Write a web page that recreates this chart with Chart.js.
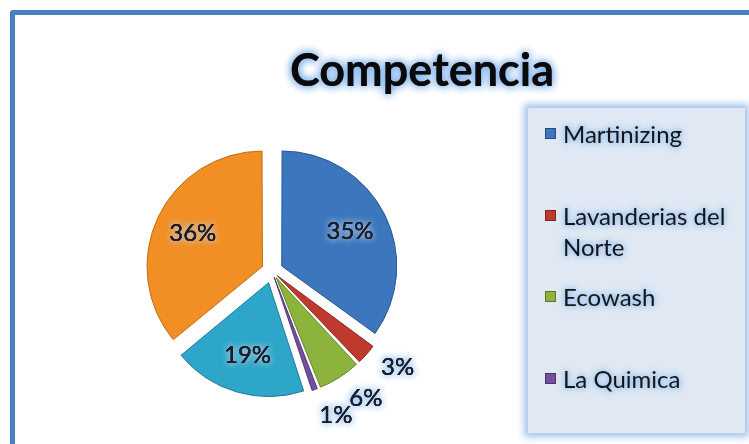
<!DOCTYPE html>
<html>
<head>
<meta charset="utf-8">
<script src="https://cdn.jsdelivr.net/npm/chart.js@4.4.1/dist/chart.umd.min.js"></script>
<style>
  html, body { margin: 0; padding: 0; background: #fff; overflow: hidden; }
  body { width: 749px; height: 444px; position: relative; }
  #frame {
    position: absolute; left: 10px; top: 10px;
    width: 830px; height: 460px;
    border: 5px solid #4a7ebf; border-radius: 3px;
    box-sizing: border-box;
  }
  #chartBox { position: absolute; left: 15px; top: 15px; width: 814px; height: 440px; }
  #legend {
    position: absolute; left: 528px; top: 108px; width: 217px; height: 325px;
    background: #dfe8f3;
    box-shadow: 0 0 7px 4px rgba(140, 180, 230, 0.8);
    font-family: Lato, "Open Sans", sans-serif; font-size: 24px; color: #151515;
  }
  .item { position: absolute; left: 17px; line-height: 31px; }
  .item i {
    position: absolute; left: 0; top: 10px; width: 11px; height: 11px;
    border: 1px solid rgba(0,0,0,0.35); box-sizing: border-box;
  }
  .item span {
    display: block; margin-left: 18px; width: 185px;
    text-shadow: 0 0 4px #9cc3ee, 0 0 6px #9cc3ee, 0 0 8px #b5d2f3;
  }
</style>
</head>
<body>
<div id="frame"></div>
<div id="chartBox"><canvas id="chart" width="814" height="440"></canvas></div>
<div id="legend"></div>
<script>
// Competencia - market share per competitor (percent)
const chartTitle = 'Competencia';
const labels = ['Martinizing', 'Lavanderias del Norte', 'Ecowash', 'La Quimica', '', ''];
const values = [35, 3, 6, 1, 19, 36];
const colors = ['#3c76bd', '#c0392f', '#8cb43c', '#7350a0', '#2ea6c9', '#f28f24'];
const edges  = ['#2b5a94', '#8e2620', '#66872a', '#51387a', '#1f7d99', '#c06d14'];

const total = values.reduce((a, b) => a + b, 0);
const EXPLODE = 13; // px each slice is pulled out

// Chart.js v4 divides offset by 4 and adds extra for thin slices; undo that so all slices move the same
function sliceOffset(ctx) {
  const circ = values[ctx.dataIndex] / total * Math.PI * 2;
  const fix = 1 - Math.sin(Math.min(Math.PI, circ));
  return EXPLODE * 4 / (1 + fix);
}

// title drawn at the middle of the canvas with a soft blue glow
const titlePlugin = {
  id: 'glowTitle',
  afterDraw(chart) {
    const { ctx } = chart;
    ctx.save();
    ctx.font = 'bold 45px Lato, "Open Sans", sans-serif';
    ctx.textAlign = 'center';
    ctx.textBaseline = 'middle';
    ctx.fillStyle = '#0a0a0a';
    ctx.shadowColor = 'rgba(110,165,230,0.95)';
    ctx.shadowBlur = 9;
    for (let k = 0; k < 2; k++) ctx.fillText(chartTitle, chart.width / 2, 56);
    ctx.restore();
  }
};

// percent labels: inside for big slices, outside for the small ones
const pctLabels = {
  id: 'pctLabels',
  afterDatasetsDraw(chart) {
    const { ctx } = chart;
    const meta = chart.getDatasetMeta(0);
    ctx.save();
    ctx.font = '24px Lato, "Open Sans", sans-serif';
    ctx.textAlign = 'center';
    ctx.textBaseline = 'middle';
    meta.data.forEach((arc, i) => {
      const p = arc.getProps(['x', 'y', 'startAngle', 'endAngle', 'outerRadius'], true);
      const pct = Math.round(values[i] / total * 100);
      const outside = pct < 10;
      const mid = (p.startAngle + p.endAngle) / 2 - (outside ? 0.07 : 0);
      const d = outside ? p.outerRadius * 1.4 : p.outerRadius * 0.66 + EXPLODE;
      const x = p.x + Math.cos(mid) * d;
      const y = p.y + Math.sin(mid) * d;
      const txt = pct + '%';
      ctx.shadowColor = outside ? 'rgba(150,195,240,0.95)' : 'rgba(200,215,235,0.6)';
      ctx.shadowBlur = 7;
      ctx.fillStyle = '#1c1c2a';
      for (let k = 0; k < 3; k++) ctx.fillText(txt, x, y);
      ctx.shadowBlur = 0;
      ctx.fillText(txt, x, y);
    });
    ctx.restore();
  }
};

new Chart(document.getElementById('chart'), {
  type: 'pie',
  data: {
    labels,
    datasets: [{
      data: values,
      backgroundColor: colors,
      borderColor: edges,
      borderWidth: 1,
      offset: sliceOffset
    }]
  },
  options: {
    responsive: false,
    animation: false,
    radius: 113,
    layout: { padding: { top: 72, bottom: 0, left: 0, right: 300 } },
    plugins: {
      legend: { display: false },
      tooltip: { enabled: false },
      title: { display: false }
    }
  },
  plugins: [pctLabels, titlePlugin]
});

// legend (only the named entries fit in the box)
const legendEl = document.getElementById('legend');
labels.forEach((name, i) => {
  if (!name) return;
  const div = document.createElement('div');
  div.className = 'item';
  div.style.top = (10 + i * 81.7) + 'px';
  div.innerHTML = '<i style="background:' + colors[i] + '"></i><span>' + name + '</span>';
  legendEl.appendChild(div);
});
</script>
</body>
</html>
